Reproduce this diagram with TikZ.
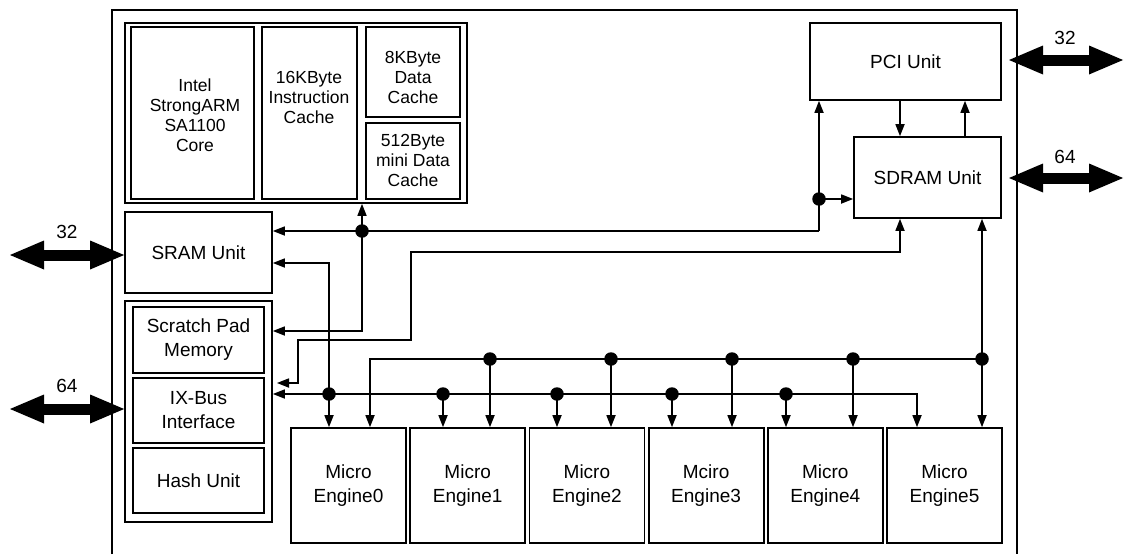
\documentclass[tikz,border=0pt]{standalone}
\usepackage{fontspec}
\setmainfont{Liberation Sans}
\usetikzlibrary{arrows.meta}
\begin{document}
\begin{tikzpicture}[x=1pt,y=-1pt,
  box/.style={draw,line width=1.8pt,inner sep=0pt,align=center,font=\fontsize{19}{24}\selectfont},
  sbox/.style={box,font=\fontsize{17.5}{20}\selectfont},
  txt/.style={align=center,inner sep=0pt,font=\fontsize{17.5}{20}\selectfont},
  lbl/.style={inner sep=0pt,font=\fontsize{19}{24}\selectfont},
  conn/.style={line width=1.6pt},
  arr/.style={conn,-{Triangle[length=12pt,width=9.5pt,line width=0pt]}},
  arrb/.style={conn,{Triangle[length=12pt,width=9.5pt,line width=0pt]}-{Triangle[length=12pt,width=9.5pt,line width=0pt]}},
  dot/.style={circle,fill,inner sep=0pt,minimum size=13.5pt},
  bus/.style={line width=11pt,{Triangle[length=34pt,width=29pt,line width=0pt]}-{Triangle[length=34pt,width=29pt,line width=0pt]}},
  frame/.style={line width=1.8pt}]
\useasboundingbox (0,0) rectangle (1126,554);
% outer frame
\coordinate (f1) at (112,554);
\coordinate (f2) at (112,10);
\coordinate (f3) at (1017,10);
\coordinate (f4) at (1017,554);
\draw[frame] (f1) -- (f2) -- (f3) -- (f4);
% top-left group
\node[box,minimum width=342pt,minimum height=180pt] (grp) at (296,113) {};
\node[sbox,minimum width=123pt,minimum height=172pt] (core) at (192.5,113) {};
\node[txt] (coret) at (195,115) {Intel\\StrongARM\\SA1100\\Core};
\node[sbox,minimum width=95pt,minimum height=172pt] (icache) at (309.5,113) {};
\node[txt] (icachet) at (309,97.5) {16KByte\\Instruction\\Cache};
\node[sbox,minimum width=94pt,minimum height=90pt] (dcache) at (413,72) {};
\node[txt] (dcachet) at (413,77) {8KByte\\Data\\Cache};
\node[sbox,minimum width=94pt,minimum height=76pt] (mini) at (413,161) {};
\node[txt] (minit) at (413,160) {512Byte\\mini Data\\Cache};
% SRAM
\node[box,minimum width=147pt,minimum height=81pt] (sram) at (198.5,252.5) {SRAM Unit};
% lower-left group
\node[box,minimum width=147pt,minimum height=221pt] (lgrp) at (198.5,411.5) {};
\node[box,minimum width=131pt,minimum height=66pt] (scratch) at (198.5,340) {Scratch Pad\\Memory};
\node[box,minimum width=131pt,minimum height=65pt] (ixbus) at (198.5,410.5) {IX-Bus\\Interface};
\node[box,minimum width=131pt,minimum height=65pt] (hash) at (198.5,480.5) {Hash Unit};
% PCI / SDRAM
\node[box,minimum width=191pt,minimum height=77pt] (pci) at (905.5,61.5) {PCI Unit};
\node[box,minimum width=147pt,minimum height=81pt] (sdram) at (927.5,177.5) {SDRAM Unit};
% micro engines
\node[box,minimum width=115pt,minimum height=115pt] (me0) at (348.5,485.5) {Micro\\Engine0};
\node[box,minimum width=115pt,minimum height=115pt] (me1) at (467.7,485.5) {Micro\\Engine1};
\node[box,minimum width=115pt,minimum height=115pt] (me2) at (586.9,485.5) {Micro\\Engine2};
\node[box,minimum width=115pt,minimum height=115pt] (me3) at (706.1,485.5) {Mciro\\Engine3};
\node[box,minimum width=115pt,minimum height=115pt] (me4) at (825.3,485.5) {Micro\\Engine4};
\node[box,minimum width=115pt,minimum height=115pt] (me5) at (944.5,485.5) {Micro\\Engine5};
% big bus arrows
\coordinate (L32) at (10,255);
\draw[bus] (L32) -- (L32 -| sram.west);
\coordinate (L64) at (10,409);
\draw[bus] (L64) -- (L64 -| lgrp.west);
\coordinate (R32a) at (1009,60);
\coordinate (R32b) at (1123,60);
\draw[bus] (R32a) -- (R32b);
\coordinate (R64a) at (1009,178);
\coordinate (R64b) at (1123,178);
\draw[bus] (R64a) -- (R64b);
\node[lbl] (t32l) at (67,232) {32};
\node[lbl] (t64l) at (67,386) {64};
\node[lbl] (t32r) at (1065,38) {32};
\node[lbl] (t64r) at (1065,157) {64};
% PCI <-> SDRAM
\coordinate (v1) at (900,0);
\draw[arr] (v1 |- pci.south) -- (v1 |- sdram.north);
\coordinate (v2) at (965,0);
\draw[arr] (v2 |- sdram.north) -- (v2 |- pci.south);
% top bus
\coordinate (c1) at (819,231);
\draw[arr] (c1) -- (c1 |- pci.south);
\draw[arr] (c1) -- (c1 -| sram.east);
\node[dot] (d0) at (819,199) {};
\draw[arr] (d0.center) -- (d0 -| sdram.west);
\node[dot] (d1) at (362,231) {};
\draw[arr] (d1.center) -- (d1 |- grp.south);
\coordinate (s1) at (362,331);
\draw[arr] (d1.center) -- (s1) -- (s1 -| lgrp.east);
% SDRAM to IX-bus
\coordinate (p1) at (900,252);
\coordinate (p2) at (411,252);
\coordinate (p3) at (411,340);
\coordinate (p4) at (298,340);
\coordinate (p5) at (298,383);
\coordinate (ixin) at (277,383);
\draw[arrb] (ixin) -- (p5) -- (p4) -- (p3) -- (p2) -- (p1) -- (p1 |- sdram.south);
% SRAM to ME0
\coordinate (q1) at (329,263);
\draw[arrb] (q1 -| sram.east) -- (q1) -- (q1 |- me0.north);
% IX bus
\coordinate (r1) at (917,394);
\draw[arrb] (r1 -| lgrp.east) -- (r1) -- (r1 |- me5.north);
\node[dot] (b0) at (329,394) {};
\node[dot] (b1) at (443,394) {};
\node[dot] (b2) at (557,394) {};
\node[dot] (b3) at (672,394) {};
\node[dot] (b4) at (786,394) {};
\draw[arr] (b1.center) -- (b1 |- me1.north);
\draw[arr] (b2.center) -- (b2 |- me2.north);
\draw[arr] (b3.center) -- (b3 |- me3.north);
\draw[arr] (b4.center) -- (b4 |- me4.north);
% upper ME bus
\coordinate (u0) at (370,359);
\node[dot] (t1) at (490,359) {};
\node[dot] (t2) at (611,359) {};
\node[dot] (t3) at (732,359) {};
\node[dot] (t4) at (853,359) {};
\node[dot] (t5) at (982,359) {};
\draw[arr] (t5.center) -- (u0) -- (u0 |- me0.north);
\draw[arr] (t1.center) -- (t1 |- me1.north);
\draw[arr] (t2.center) -- (t2 |- me2.north);
\draw[arr] (t3.center) -- (t3 |- me3.north);
\draw[arr] (t4.center) -- (t4 |- me4.north);
\draw[arrb] (t5 |- sdram.south) -- (t5 |- me5.north);
\end{tikzpicture}
\end{document}
